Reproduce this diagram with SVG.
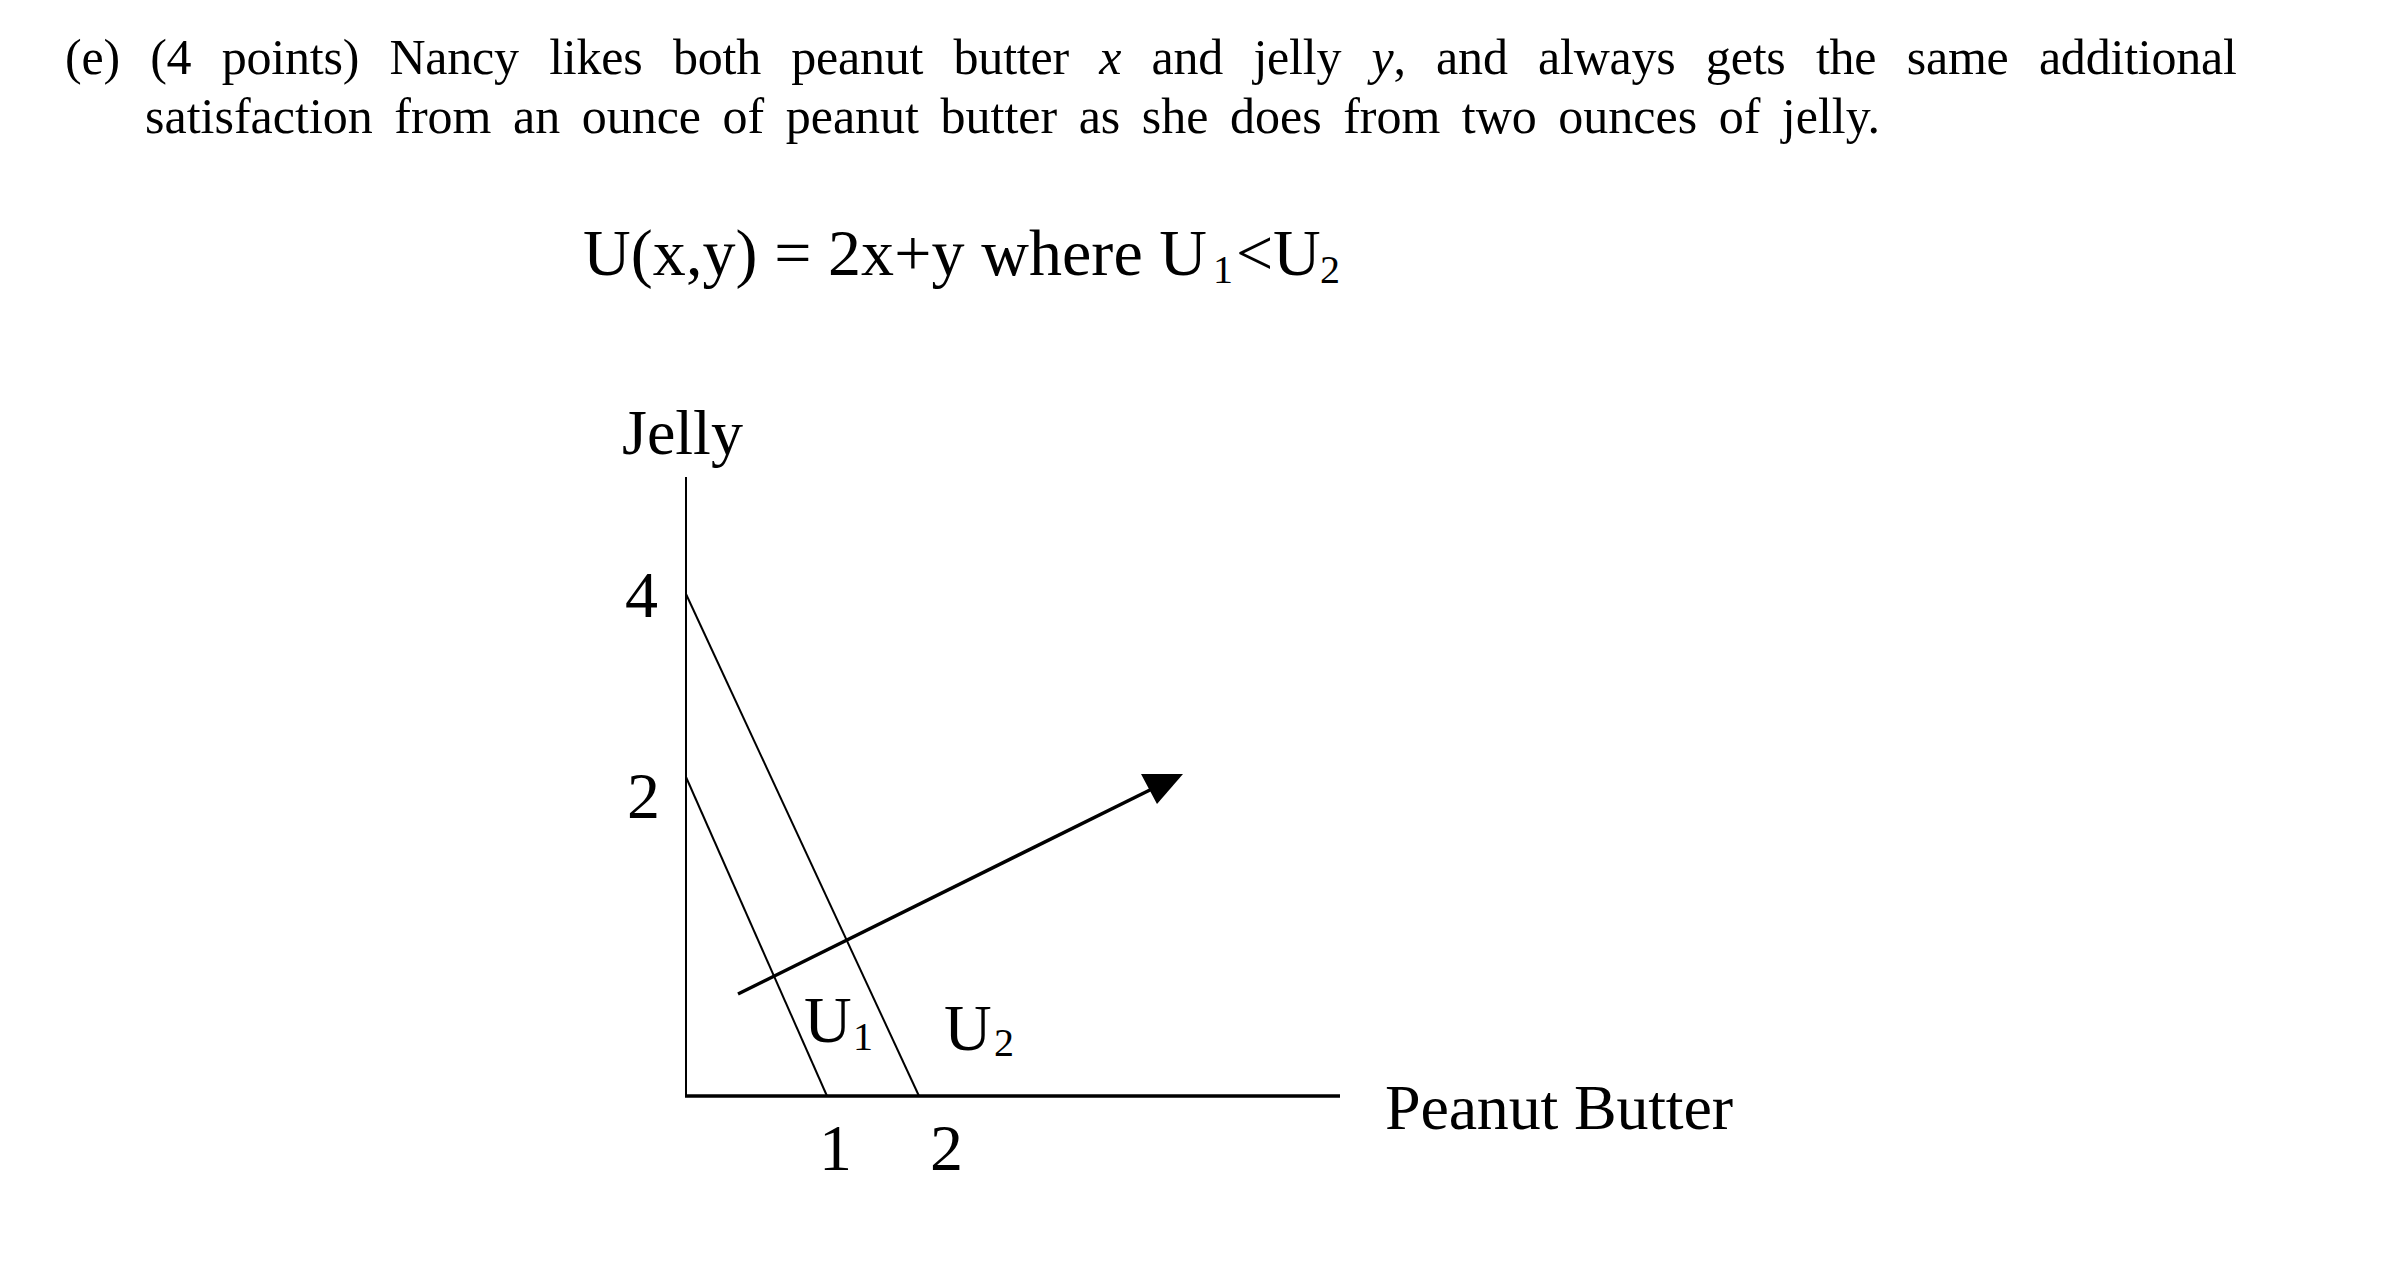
<svg xmlns="http://www.w3.org/2000/svg" width="2405" height="1262" viewBox="0 0 2405 1262">
<style>
.t{font-family:"Liberation Serif","Times New Roman",serif;fill:#000}
.q{font-size:50px}
.d{font-size:66px}
.s{font-size:40px}
.ax{stroke:#000;fill:none}
</style>
<rect width="2405" height="1262" fill="#fff"/>
<g id="question">
<text class="t q" x="65" y="74" word-spacing="18" textLength="2172" lengthAdjust="spacing">(e) (4 points) Nancy likes both peanut butter <tspan font-style="italic">x</tspan> and jelly <tspan font-style="italic">y</tspan>, and always gets the same additional</text>
<text class="t q" x="145" y="133" word-spacing="9" textLength="1735" lengthAdjust="spacing">satisfaction from an ounce of peanut butter as she does from two ounces of jelly.</text>
</g>
<g id="equation">
<text class="t d" x="583" y="275" textLength="624" lengthAdjust="spacing">U(x,y) = 2x+y where U</text>
<text class="t s" x="1213" y="283">1</text>
<text class="t d" x="1236" y="275">&lt;</text>
<text class="t d" x="1273" y="275">U</text>
<text class="t s" x="1320" y="283">2</text>
</g>
<g id="axes">
<line class="ax" x1="686" y1="477" x2="686" y2="1096" stroke-width="2"/>
<line class="ax" x1="685" y1="1096" x2="1340" y2="1096" stroke-width="3.5"/>
<text class="t" x="622" y="454" font-size="64">Jelly</text>
<text class="t d" x="625" y="617">4</text>
<text class="t d" x="627" y="818">2</text>
<text class="t d" x="819" y="1170">1</text>
<text class="t d" x="930" y="1170">2</text>
<text class="t" x="1385" y="1129" font-size="64" textLength="348" lengthAdjust="spacing">Peanut Butter</text>
</g>
<g id="connectors">
<line id="U1-line" class="ax" x1="686" y1="777" x2="827" y2="1096" stroke-width="2"/>
<line id="U2-line" class="ax" x1="686" y1="594" x2="919" y2="1096" stroke-width="2"/>
<line id="direction" class="ax" x1="738" y1="994" x2="1160" y2="785" stroke-width="3.5"/>
<polygon points="1141,774 1183,774 1157,804" fill="#000"/>
</g>
<g id="U1-label">
<text class="t d" x="804" y="1042">U</text>
<text class="t s" x="853" y="1050">1</text>
</g>
<g id="U2-label">
<text class="t d" x="944" y="1050">U</text>
<text class="t s" x="994" y="1056">2</text>
</g>
</svg>
